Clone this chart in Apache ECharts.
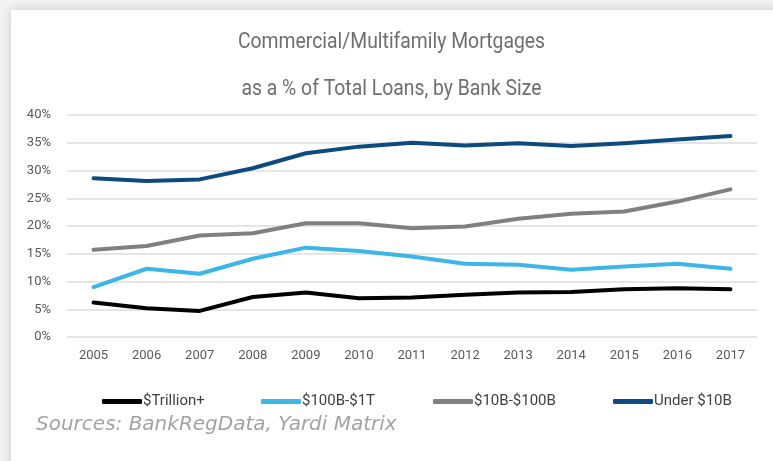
<!DOCTYPE html>
<html>
<head>
<meta charset="utf-8">
<script src="https://cdn.jsdelivr.net/npm/echarts@6/dist/echarts.min.js"></script>
<style>
html,body{margin:0;padding:0;background:#f3f3f3;}
#c{width:773px;height:461px;}
</style>
</head>
<body>
<div id="c"></div>
<script>
var years = ['2005','2006','2007','2008','2009','2010','2011','2012','2013','2014','2015','2016','2017'];
var trillionPlus = [6.2, 5.2, 4.7, 7.2, 8.0, 7.0, 7.1, 7.6, 8.0, 8.1, 8.6, 8.8, 8.6];
var b100to1T = [9.0, 12.3, 11.4, 14.1, 16.1, 15.5, 14.5, 13.2, 13.0, 12.1, 12.7, 13.2, 12.3];
var b10to100 = [15.7, 16.4, 18.3, 18.7, 20.5, 20.5, 19.6, 19.9, 21.3, 22.2, 22.6, 24.4, 26.6];
var under10B = [28.6, 28.1, 28.4, 30.4, 33.1, 34.3, 35.0, 34.5, 34.9, 34.4, 34.9, 35.6, 36.2];
var seriesNames = ['$Trillion+', '$100B-$1T', '$10B-$100B', 'Under $10B'];
var seriesColors = ['#000000', '#3cb6e6', '#808080', '#0d4a80'];
var seriesData = [trillionPlus, b100to1T, b10to100, under10B];
var titleLines = ['Commercial/Multifamily Mortgages', 'as a % of Total Loans, by Bank Size'];
var sourceText = 'Sources: BankRegData, Yardi Matrix';

var fam = '"Roboto", sans-serif';
var chart = echarts.init(document.getElementById('c'), null, {renderer: 'canvas'});

var legendLefts = [97, 256, 428, 608];
var legends = seriesNames.map(function (n, i) {
  return {
    data: [n], left: legendLefts[i], top: 389,
    icon: 'roundRect', itemWidth: 40, itemHeight: 5, itemGap: 0,
    textStyle: {fontFamily: fam, fontSize: 15, color: '#404040', padding: [0, 0, 0, -4]}
  };
});

chart.setOption({
  animation: false,
  backgroundColor: 'transparent',
  graphic: [
    {type: 'rect', z: -100, silent: true, shape: {x: 11, y: 10, width: 780, height: 470},
     style: {fill: '#ffffff', shadowBlur: 10, shadowColor: 'rgba(0,0,0,0.18)'}},
    {type: 'text', x: 391.5, y: 31, scaleX: 0.88, z: 10,
     style: {text: titleLines[0], font: '22px ' + fam, fill: '#6e6e6e', align: 'center', verticalAlign: 'top'}},
    {type: 'text', x: 391.5, y: 78, scaleX: 0.88, z: 10,
     style: {text: titleLines[1], font: '22px ' + fam, fill: '#6e6e6e', align: 'center', verticalAlign: 'top'}},
    {type: 'text', x: 36, y: 415, z: 10,
     style: {text: sourceText, font: 'italic 20px "DejaVu Sans", sans-serif', fill: '#a3a3a3', verticalAlign: 'top'}}
  ],
  legend: legends,
  grid: {left: 67, right: 16, top: 115, bottom: 124},
  xAxis: {
    type: 'category', data: years, boundaryGap: true,
    axisLine: {show: false}, axisTick: {show: false},
    axisLabel: {fontFamily: fam, fontSize: 13, color: '#595959', margin: 12}
  },
  yAxis: {
    type: 'value', min: 0, max: 40, interval: 5,
    axisLine: {show: false}, axisTick: {show: false},
    axisLabel: {fontFamily: fam, fontSize: 13, color: '#595959', margin: 16, formatter: '{value}%'},
    splitLine: {lineStyle: {color: '#dcdcdc', width: 1.5}}
  },
  series: seriesData.map(function (d, i) {
    return {
      name: seriesNames[i], type: 'line', data: d, symbol: 'none',
      itemStyle: {color: seriesColors[i]},
      lineStyle: {color: seriesColors[i], width: 4, cap: 'round', join: 'round'}
    };
  })
});
</script>
</body>
</html>
